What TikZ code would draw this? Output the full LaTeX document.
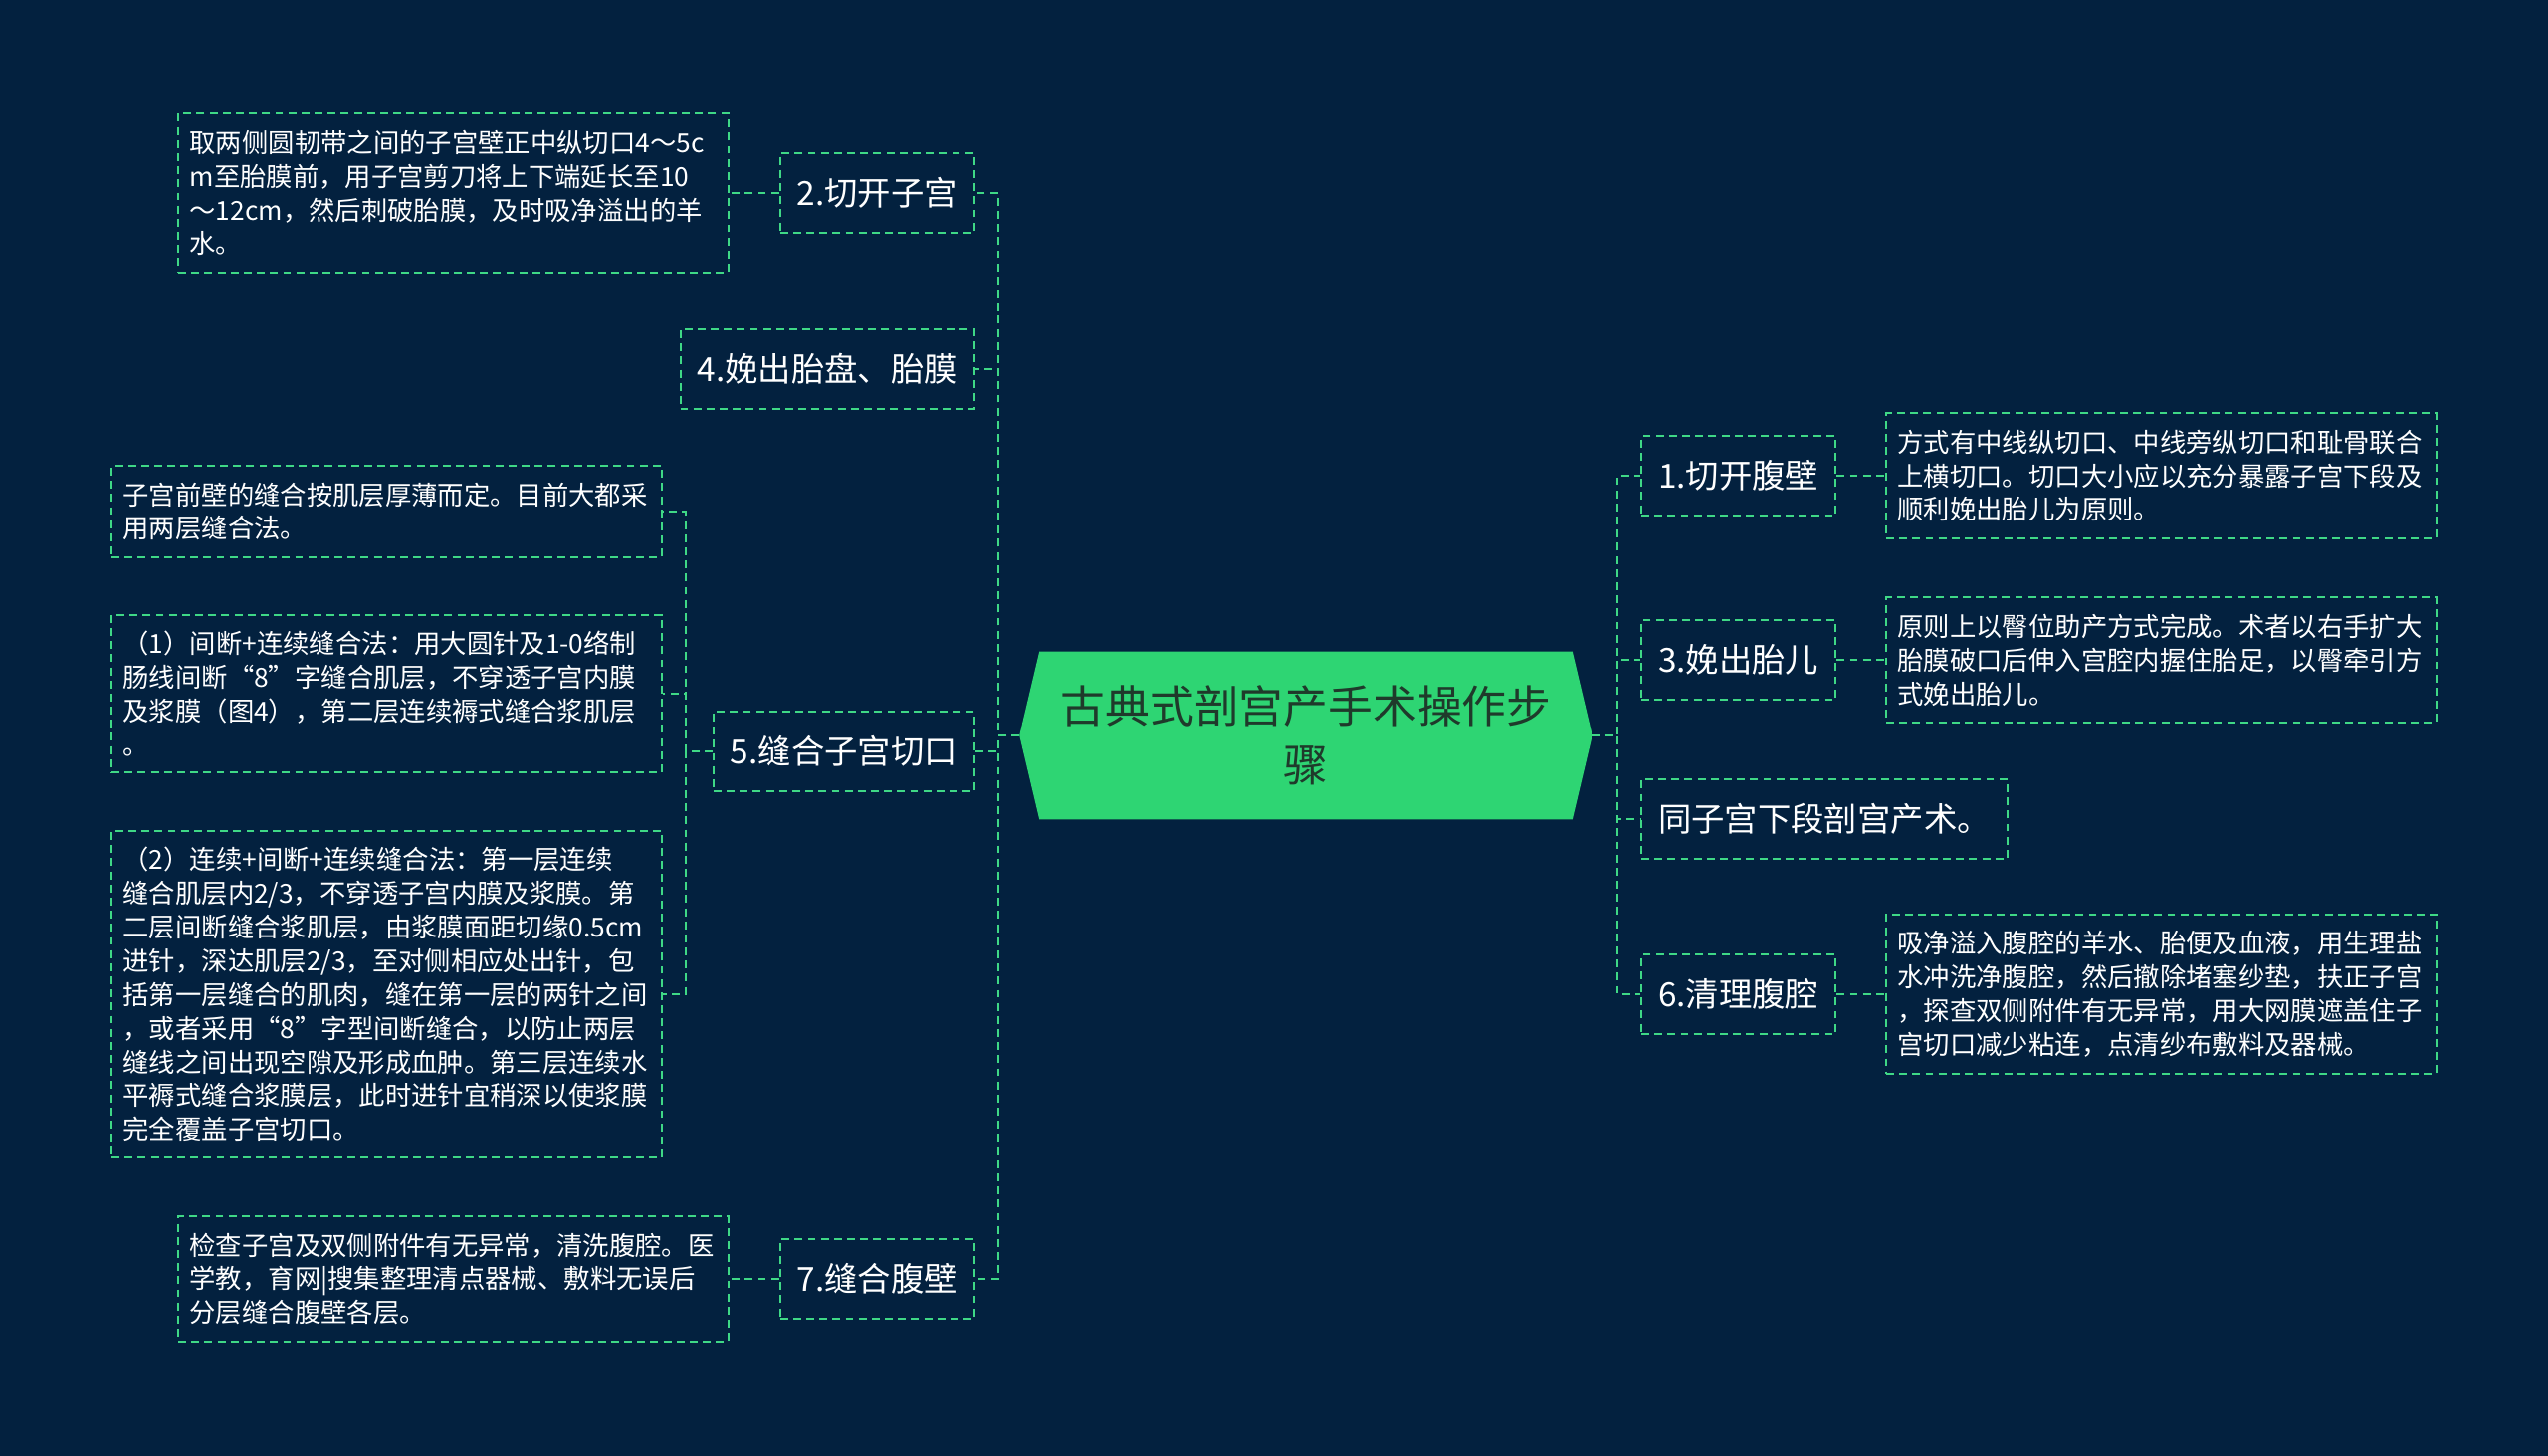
\documentclass[tikz,border=0pt]{standalone}
\usepackage{fontspec}
\setmainfont{Noto Sans CJK SC}
\usetikzlibrary{backgrounds}

\definecolor{navybg}{HTML}{03213F}
\definecolor{leafgreen}{HTML}{2ED573}
\definecolor{dashgreen}{HTML}{3FD886}
\definecolor{titleink}{HTML}{1F3A2B}

\begin{document}
\begin{tikzpicture}[x=0.02cm, y=-0.02cm,
    stepbox/.style={draw=dashgreen, line width=1.15pt, dash pattern=on 4.5pt off 3pt, text=white, font=\fontsize{19}{23}\selectfont, minimum height=1.6cm, inner xsep=0.34cm},
    notebox/.style={draw=dashgreen, line width=1.15pt, dash pattern=on 4.5pt off 3pt, text=white, font=\fontsize{15}{19.3}\selectfont, text width=10.6cm, align=left, inner xsep=0.23cm, inner ysep=0.33cm},
    rootbox/.style={minimum width=11.5cm, minimum height=3.36cm, inner sep=0pt, align=center, text=titleink, font=\fontsize{25.5}{33.6}\selectfont},
    link/.style={draw=dashgreen, line width=1.5pt, dash pattern=on 4.5pt off 3pt}]
    \useasboundingbox (0,0) rectangle (2560,1463);

    % Central topic
    \node[rootbox] (root) at (1312,739) {古典式剖宫产手术操作步\\骤};
    \begin{pgfonlayer}{background}
        \fill[navybg] (0,0) rectangle (2560,1463);
        \fill[leafgreen] (root.west) -- ([xshift=0.4cm]root.north west) -- ([xshift=-0.4cm]root.north east)
            -- (root.east) -- ([xshift=-0.4cm]root.south east) -- ([xshift=0.4cm]root.south west) -- cycle;
    \end{pgfonlayer}
    \coordinate (rtrunk) at (1625,739);
    \coordinate (ltrunk) at (1003,739);

    % Right branch
    \node[stepbox, anchor=west] (r1) at (1648,478) {1.切开腹壁};
    \node[notebox, anchor=west] (r1note) at (1894,478) {方式有中线纵切口、中线旁纵切口和耻骨联合\\上横切口。切口大小应以充分暴露子宫下段及\\顺利娩出胎儿为原则。};
    \node[stepbox, anchor=west] (r3) at (1648,663) {3.娩出胎儿};
    \node[notebox, anchor=west] (r3note) at (1894,663) {原则上以臀位助产方式完成。术者以右手扩大\\胎膜破口后伸入宫腔内握住胎足，以臀牵引方\\式娩出胎儿。};
    \node[stepbox, anchor=west] (r4) at (1648,823) {同子宫下段剖宫产术。};
    \node[stepbox, anchor=west] (r6) at (1648,999) {6.清理腹腔};
    \node[notebox, anchor=west] (r6note) at (1894,999) {吸净溢入腹腔的羊水、胎便及血液，用生理盐\\水冲洗净腹腔，然后撤除堵塞纱垫，扶正子宫\\，探查双侧附件有无异常，用大网膜遮盖住子\\宫切口减少粘连，点清纱布敷料及器械。};

    \draw[link] (root.east) -- (rtrunk) |- (r1.west);
    \draw[link] (root.east) -- (rtrunk) |- (r3.west);
    \draw[link] (root.east) -- (rtrunk) |- (r4.west);
    \draw[link] (root.east) -- (rtrunk) |- (r6.west);
    \draw[link] (r1.east) -- (r1note.west);
    \draw[link] (r3.east) -- (r3note.west);
    \draw[link] (r6.east) -- (r6note.west);

    % Left branch
    \node[stepbox, anchor=east] (l2) at (980,194) {2.切开子宫};
    \node[notebox, anchor=east] (l2note) at (733,194) {取两侧圆韧带之间的子宫壁正中纵切口4～5c\\m至胎膜前，用子宫剪刀将上下端延长至10\\～12cm，然后刺破胎膜，及时吸净溢出的羊\\水。};
    \node[stepbox, anchor=east] (l4) at (980,371) {4.娩出胎盘、胎膜};
    \node[stepbox, anchor=east] (l5) at (980,755) {5.缝合子宫切口};
    \node[notebox, anchor=east] (l5a) at (666,514) {子宫前壁的缝合按肌层厚薄而定。目前大都采\\用两层缝合法。};
    \node[notebox, anchor=east] (l5b) at (666,697) {（1）间断+连续缝合法：用大圆针及1-0络制\\肠线间断“8”字缝合肌层，不穿透子宫内膜\\及浆膜（图4），第二层连续褥式缝合浆肌层\\。};
    \node[notebox, anchor=east] (l5c) at (666,999) {（2）连续+间断+连续缝合法：第一层连续\\缝合肌层内2/3，不穿透子宫内膜及浆膜。第\\二层间断缝合浆肌层，由浆膜面距切缘0.5cm\\进针，深达肌层2/3，至对侧相应处出针，包\\括第一层缝合的肌肉，缝在第一层的两针之间\\，或者采用“8”字型间断缝合，以防止两层\\缝线之间出现空隙及形成血肿。第三层连续水\\平褥式缝合浆膜层，此时进针宜稍深以使浆膜\\完全覆盖子宫切口。};
    \node[stepbox, anchor=east] (l7) at (980,1285) {7.缝合腹壁};
    \node[notebox, anchor=east] (l7note) at (733,1285) {检查子宫及双侧附件有无异常，清洗腹腔。医\\学教，育网|搜集整理清点器械、敷料无误后\\分层缝合腹壁各层。};
    \coordinate (l5trunk) at (689,755);

    \draw[link] (root.west) -- (ltrunk) |- (l2.east);
    \draw[link] (root.west) -- (ltrunk) |- (l4.east);
    \draw[link] (root.west) -- (ltrunk) |- (l5.east);
    \draw[link] (root.west) -- (ltrunk) |- (l7.east);
    \draw[link] (l2.west) -- (l2note.east);
    \draw[link] (l7.west) -- (l7note.east);
    \draw[link] (l5.west) -- (l5trunk) |- (l5a.east);
    \draw[link] (l5.west) -- (l5trunk) |- (l5b.east);
    \draw[link] (l5.west) -- (l5trunk) |- (l5c.east);

\end{tikzpicture}
\end{document}
